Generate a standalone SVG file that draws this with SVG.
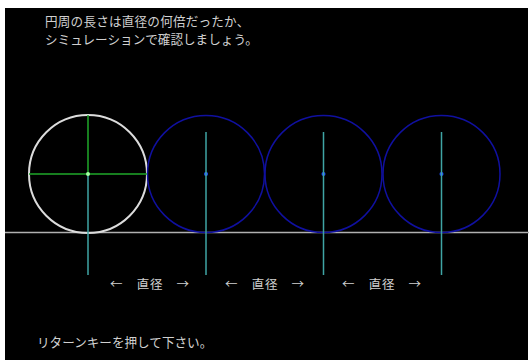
<svg xmlns="http://www.w3.org/2000/svg" width="529" height="360" viewBox="0 0 529 360">
<style>
text{font-family:"Noto Sans CJK JP","Noto Sans",sans-serif;fill:#d0d0d0;font-size:12.6px}
.lbl{font-size:12.5px;text-anchor:middle;letter-spacing:0.8px}
.blue{fill:none;stroke:#1010a0;stroke-width:1.5}
.cyan{stroke:#3fa5a5;stroke-width:1.5}
.green{stroke:#1fa82a;stroke-width:1.5}
.dot{fill:#1e50ff}
</style>
<rect x="0" y="0" width="529" height="360" fill="#ffffff"/>
<rect x="5" y="8" width="523" height="352" fill="#000000"/>
<text x="45" y="26" letter-spacing="0.2">円周の長さは直径の何倍だったか、</text>
<text x="45" y="44">シミュレーションで確認しましょう。</text>
<line x1="5" y1="232.5" x2="529" y2="232.5" stroke="#b0b0b0" stroke-width="1.5"/>
<g id="circle1">
<circle cx="88" cy="174" r="59" fill="none" stroke="#dcdcdc" stroke-width="2"/>
</g>
<g id="circle2"><circle class="blue" cx="206" cy="174" r="58.5"/><circle class="dot" cx="206" cy="174" r="2"/></g>
<g id="circle3"><circle class="blue" cx="323.5" cy="174" r="58.5"/><circle class="dot" cx="323.5" cy="174" r="2"/></g>
<g id="circle4"><circle class="blue" cx="441.5" cy="174" r="58.5"/><circle class="dot" cx="441.5" cy="174" r="2"/></g>
<g id="connectors">
<line class="green" x1="88" y1="115" x2="88" y2="174"/>
<line class="green" x1="29" y1="174" x2="147" y2="174"/>
<line class="cyan" x1="88" y1="174" x2="88" y2="275"/>
<circle cx="88" cy="174" r="2" fill="#a0ffa0"/>
<line class="cyan" x1="206" y1="132" x2="206" y2="275"/>
<line class="cyan" x1="323.5" y1="132" x2="323.5" y2="275"/>
<line class="cyan" x1="441.5" y1="132" x2="441.5" y2="275"/>
</g>
<text class="lbl" x="150" y="289">←　直径　→</text>
<text class="lbl" x="265" y="289">←　直径　→</text>
<text class="lbl" x="382" y="289">←　直径　→</text>
<text x="37" y="347">リターンキーを押して下さい。</text>
</svg>
